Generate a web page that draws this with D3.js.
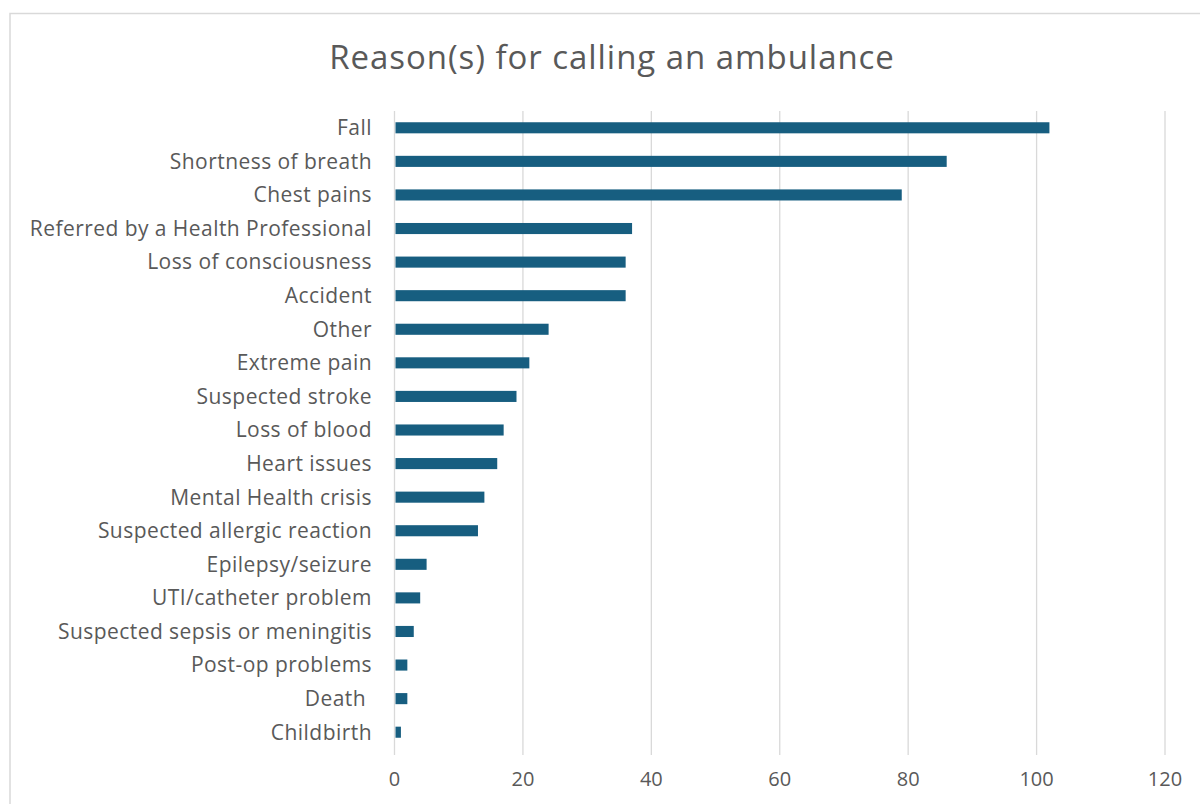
<!DOCTYPE html>
<html>
<head>
<meta charset="utf-8">
<script src="https://cdn.jsdelivr.net/npm/d3@7"></script>
<style>
  body { margin: 0; background: #fff; }
  svg { display: block; font-family: "Open Sans", sans-serif; }
  .label { fill: #595959; font-size: 21px; letter-spacing: 0.45px; }
  .tick-label { fill: #595959; font-size: 20px; }
  .chart-title { fill: #595959; font-size: 33px; letter-spacing: 0.95px; }
</style>
</head>
<body>
<svg width="1200" height="804"></svg>
<script>
// Reasons listed from top to bottom, with number of responses
var reasons = [
    'Fall', 'Shortness of breath', 'Chest pains', 'Referred by a Health Professional',
    'Loss of consciousness', 'Accident', 'Other', 'Extreme pain', 'Suspected stroke',
    'Loss of blood', 'Heart issues', 'Mental Health crisis', 'Suspected allergic reaction',
    'Epilepsy/seizure', 'UTI/catheter problem', 'Suspected sepsis or meningitis',
    'Post-op problems', 'Death ', 'Childbirth'
];
var counts = [102, 86, 79, 37, 36, 36, 24, 21, 19, 17, 16, 14, 13, 5, 4, 3, 2, 2, 1];
var xTicks = [0, 20, 40, 60, 80, 100, 120];

var svg = d3.select('svg');

// chart border (right and bottom edges run off the page)
svg.append('rect')
    .attr('x', 10)
    .attr('y', 13.5)
    .attr('width', 1300)
    .attr('height', 900)
    .attr('fill', 'none')
    .attr('stroke', '#d9d9d9')
    .attr('stroke-width', 1.5);

var plot = {l: 394.5, r: 1165, t: 111, b: 749};

var xScale = d3.scaleLinear()
    .domain([0, 120])
    .range([plot.l, plot.r]);

var yScale = d3.scaleBand()
    .domain(reasons)
    .range([plot.t, plot.b])
    .paddingInner(0.67)
    .paddingOuter(0.335);

// vertical gridlines
svg.append('g')
    .selectAll('line')
    .data(xTicks)
    .enter()
    .append('line')
    .attr('x1', function(d) { return xScale(d); })
    .attr('x2', function(d) { return xScale(d); })
    .attr('y1', plot.t)
    .attr('y2', plot.b + 6)
    .attr('stroke', '#d9d9d9')
    .attr('stroke-width', 1.3);

// x tick labels
svg.append('g')
    .selectAll('text')
    .data(xTicks)
    .enter()
    .append('text')
    .attr('class', 'tick-label')
    .attr('x', function(d) { return xScale(d); })
    .attr('y', 786)
    .style('text-anchor', 'middle')
    .text(function(d) { return d; });

// bars
svg.append('g')
    .selectAll('rect')
    .data(counts)
    .enter()
    .append('rect')
    .attr('x', xScale(0) + 1)
    .attr('y', function(d, i) { return yScale(reasons[i]); })
    .attr('width', function(d) { return xScale(d) - xScale(0) - 1; })
    .attr('height', yScale.bandwidth())
    .attr('fill', '#175e80');

// category labels
svg.append('g')
    .selectAll('text')
    .data(reasons)
    .enter()
    .append('text')
    .attr('class', 'label')
    .attr('x', 372)
    .attr('y', function(d) { return yScale(d) + yScale.bandwidth() / 2; })
    .attr('dy', '0.35em')
    .style('text-anchor', 'end')
    .style('white-space', 'pre')
    .text(function(d) { return d; });

svg.append('text')
    .attr('class', 'chart-title')
    .attr('x', 612)
    .attr('y', 69)
    .style('text-anchor', 'middle')
    .text('Reason(s) for calling an ambulance');
</script>
</body>
</html>
